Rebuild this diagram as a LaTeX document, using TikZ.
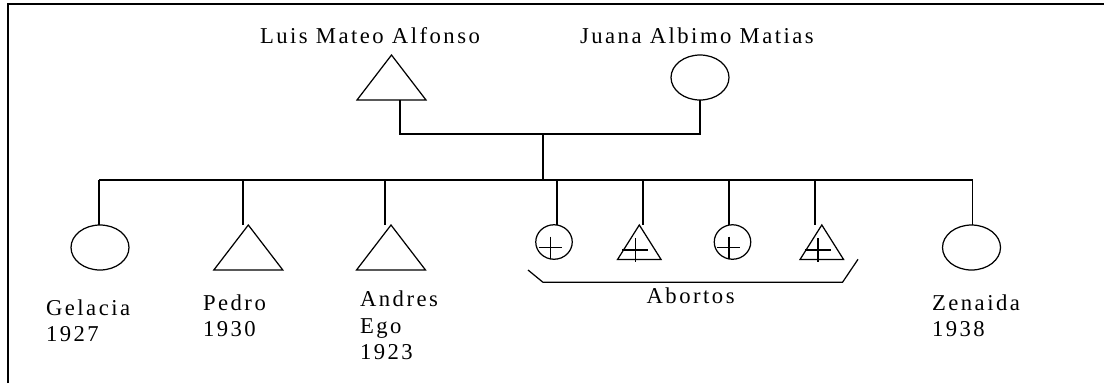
\documentclass[tikz,border=0pt]{standalone}
\usepackage{fontspec}
\setmainfont{Liberation Serif}[LetterSpace=11]
\usetikzlibrary{shapes.geometric,calc}

\begin{document}
\begin{tikzpicture}[x=0.02cm, y=-0.02cm, line width=0.7pt,
  every node/.style={font=\fontsize{12.9}{15.1}\selectfont, inner sep=0pt, outer sep=0pt},
  fem/.style={draw, ellipse, minimum width=1.16cm, minimum height=0.9cm},
  masc/.style={minimum width=1.38cm, minimum height=0.9cm},
  afem/.style={draw, ellipse, minimum width=0.73cm, minimum height=0.69cm},
  amasc/.style={minimum width=0.87cm, minimum height=0.69cm},
  who/.style={align=left, anchor=north west}]
	\useasboundingbox (0,0) rectangle (1104,383);
	\draw[line width=1.2pt] (7.7,383) |- (1104,4.3);
	\node[masc] (luis) at (391.5,77.5) {};
	\node[fem] (juana) at (700,77.5) {};
	\node[anchor=base west] (luisname) at (260,43) {Luis Mateo Alfonso};
	\node[anchor=base west] (juananame) at (580,43) {Juana Albimo Matias};
	\node[fem] (gelacia) at (100,247.5) {};
	\node[masc] (pedro) at (248.3,247.5) {};
	\node[masc] (andres) at (391,247.5) {};
	\node[afem] (ab1) at (554,242) {};
	\node[amasc] (ab2) at (639.3,242.2) {};
	\node[afem] (ab3) at (732.5,242) {};
	\node[amasc] (ab4) at (821.8,242.2) {};
	\node[fem] (zenaida) at (971.5,247.5) {};
	\foreach \n in {luis,pedro,andres,ab2,ab4} {\draw (\n.north) -- (\n.south east) -- (\n.south west) -- cycle;}
	\foreach \n in {ab1,ab3} {\draw ($(\n.center)+(-15.4,5.3)$) -- ++(23.1,0) ($(\n.center)+(-3.5,-5.3)$) -- ++(0,22.6);}
	\foreach \n in {ab2,ab4} {\draw ($(\n.center)+(-17,7.8)$) -- ++(26,0) ($(\n.center)+(-3.8,-3.9)$) -- ++(0,23.4);}
	\coordinate (union) at (543,134);
	\coordinate (bar) at (543,180);
	\draw ($(luis.south)+(8.5,0)$) |- (union) -| (juana.south);
	\draw (union) -- (bar);
	\draw ($(gelacia.north |- bar)+(-1,0)$) -- ($(zenaida.north |- bar)+(1,0)$);
	\foreach \n/\dx in {gelacia/-1, pedro/-5.3, andres/-6, ab1/3, ab2/3.7, ab3/-3.5, ab4/-6.8, zenaida/1} {\draw ($(\n.north)+(\dx,0)$) -- ($(\n.north |- bar)+(\dx,0)$);}
	\draw (528,270) -- (543,282.3) -- (842.5,282.3) -- (858,259.3);
	\node[anchor=base west] (abortos) at (646.6,303.3) {Abortos};
	\node[who] (gelacianame) at (46,299.5) {Gelacia\\1927};
	\node[who] (pedroname) at (203,294.5) {Pedro\\1930};
	\node[who] (andresname) at (360,291.2) {Andres\\Ego\\1923};
	\node[who] (zenaidaname) at (932,294.5) {Zenaida\\1938};
\end{tikzpicture}
\end{document}
